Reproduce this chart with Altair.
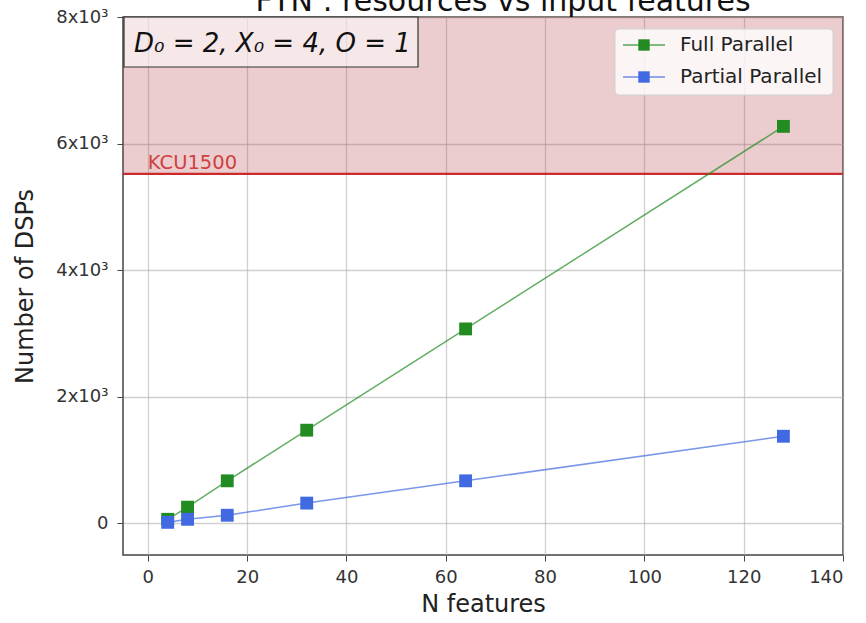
import altair as alt
import pandas as pd

# ---------------- data ----------------
n_features = [4, 8, 16, 32, 64, 128]
full_parallel = [64, 256, 672, 1472, 3072, 6272]
partial_parallel = [16, 64, 128, 320, 672, 1376]
series_names = ["Full Parallel", "Partial Parallel"]
series_colors = ["#228b22", "#4169e1"]
kcu1500_dsps = 5520
kcu_label = "KCU1500"
y_max = 8000
x_ticks = [0, 20, 40, 60, 80, 100, 120, 140]
y_ticks = [0, 2000, 4000, 6000, 8000]
title_text = "FTN : resources vs input features"
annotation_text = "D\u2080 = 2, X\u2080 = 4, O = 1"

df = pd.DataFrame({
    "N": n_features * 2,
    "DSP": full_parallel + partial_parallel,
    "series": [series_names[0]] * len(n_features) + [series_names[1]] * len(n_features),
})

W, H = 720, 538
FONT = "DejaVu Sans"

xs = alt.Scale(domain=[-5, 140], nice=False, zero=False)
ys = alt.Scale(domain=[-500, y_max], nice=False, zero=False)
cs = alt.Scale(domain=series_names, range=series_colors)

common_axis = dict(grid=True, domain=False, tickSize=6, tickColor="#444",
                   labelFontSize=18, titleFontSize=24, labelColor="#333", titleColor="#222",
                   labelFont=FONT, titleFont=FONT, titleFontWeight="normal",
                   gridColor="#b0b0b0", gridWidth=1.3, gridOpacity=0.6)
x_axis = alt.Axis(values=x_ticks, title="N features", titlePadding=6, labelPadding=7,
                  **common_axis)
y_axis = alt.Axis(values=y_ticks, title="Number of DSPs", titlePadding=18, labelPadding=9,
                  labelExpr="datum.value == 0 ? '0' : (datum.value/1000) + 'x10\u00b3'",
                  **common_axis)

# shaded region above the device limit
shade_df = pd.DataFrame({"y": [kcu1500_dsps], "y2": [y_max]})
shade = alt.Chart(shade_df).mark_rect(color="#b3373f", opacity=0.25).encode(
    x=alt.value(0), x2=alt.value(W),
    y=alt.Y("y:Q", scale=ys, axis=y_axis), y2="y2:Q",
)

kcu_df = pd.DataFrame({"x": [0], "y": [kcu1500_dsps], "label": [kcu_label]})
kcu_rule = alt.Chart(kcu_df).mark_rule(color="#cc2a2a", strokeWidth=2.2).encode(
    y=alt.Y("y:Q", scale=ys), x=alt.value(0), x2=alt.value(W),
)
kcu_text = alt.Chart(kcu_df).mark_text(
    align="left", baseline="bottom", dy=-1, fontSize=19.5, font=FONT, color="#d04040"
).encode(x=alt.X("x:Q", scale=xs), y=alt.Y("y:Q", scale=ys), text="label:N")

lines = alt.Chart(df).mark_line(strokeWidth=1.5, opacity=0.7).encode(
    x=alt.X("N:Q", scale=xs, axis=x_axis),
    y=alt.Y("DSP:Q", scale=ys),
    color=alt.Color("series:N", scale=cs, legend=None),
)
points = alt.Chart(df).mark_point(shape="square", filled=True, size=165, opacity=1).encode(
    x=alt.X("N:Q", scale=xs),
    y=alt.Y("DSP:Q", scale=ys),
    color=alt.Color("series:N", scale=cs, legend=None),
)

# annotation box (top-left)
ann_box = alt.Chart(pd.DataFrame({"a": [0]})).mark_rect(
    fill="white", fillOpacity=0.55, stroke="#333", strokeWidth=1.2
).encode(x=alt.value(1), x2=alt.value(295), y=alt.value(0), y2=alt.value(50))
ann_text = alt.Chart(pd.DataFrame({"t": [annotation_text]})).mark_text(
    align="left", baseline="alphabetic", fontSize=26, font=FONT, fontStyle="italic", color="#111"
).encode(x=alt.value(11), y=alt.value(35), text="t:N")

# clipped title at the very top
title = alt.Chart(pd.DataFrame({"t": [title_text]})).mark_text(
    align="center", baseline="alphabetic", fontSize=30, font=FONT, color="#111"
).encode(x=alt.value(380), y=alt.value(-6), text="t:N")

# legend (manual)
leg_layers = [
    alt.Chart(pd.DataFrame({"a": [0]})).mark_rect(
        fill="white", fillOpacity=0.8, stroke="#d0d0d0", strokeWidth=1, cornerRadius=4
    ).encode(x=alt.value(492), x2=alt.value(710), y=alt.value(12), y2=alt.value(78))
]
row_y = [28, 60]
for name, col, ry in zip(series_names, series_colors, row_y):
    d = pd.DataFrame({"s": [name]})
    leg_layers.append(alt.Chart(d).mark_rule(color=col, strokeWidth=1.5, opacity=0.75).encode(
        x=alt.value(500), x2=alt.value(542), y=alt.value(ry)))
    leg_layers.append(alt.Chart(d).mark_point(shape="square", filled=True, size=130, color=col, opacity=1).encode(
        x=alt.value(521), y=alt.value(ry)))
    leg_layers.append(alt.Chart(d).mark_text(align="left", baseline="middle", fontSize=20, font=FONT, color="#222").encode(
        x=alt.value(557), y=alt.value(ry), text="s:N"))

chart = alt.layer(
    shade, kcu_rule, kcu_text, lines, points, ann_box, ann_text, title, *leg_layers
).properties(
    width=W, height=H,
    autosize=alt.AutoSizeParams(type="none"),
    padding={"left": 123, "top": 17, "right": 23, "bottom": 68},
    background="white",
).configure_view(stroke="#444", strokeWidth=1.5)

chart.save("out.html", embed_options={"renderer": "svg", "actions": False})
